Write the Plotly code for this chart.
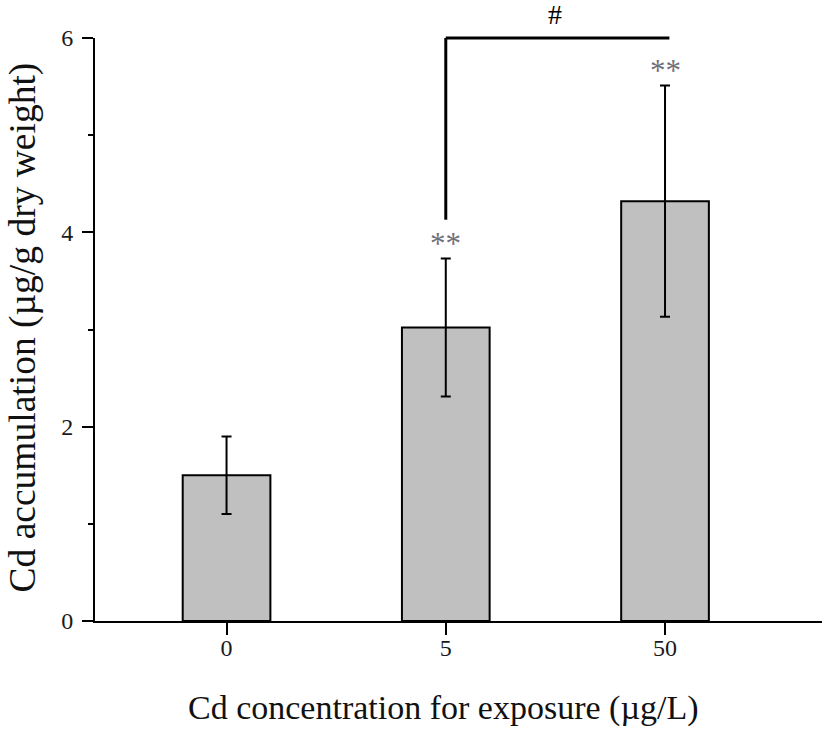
import plotly.graph_objects as go

# Cd accumulation per exposure group
categories = ["0", "5", "50"]
means = [1.50, 3.02, 4.32]
errors = [0.40, 0.71, 1.19]
stars = ["", "**", "**"]

SERIF = "Liberation Serif, Times New Roman, serif"
y_max = 6

fig = go.Figure()

fig.add_trace(
    go.Bar(
        x=list(range(len(categories))),
        y=means,
        width=0.4,
        marker=dict(color="#c0c0c0", line=dict(color="black", width=2)),
        error_y=dict(type="data", array=errors, visible=True,
                     color="black", thickness=2, width=5),
        showlegend=False,
    )
)

# significance asterisks above the error bars
for i, s in enumerate(stars):
    if s:
        fig.add_annotation(
            x=i, y=means[i] + errors[i], text=s, showarrow=False,
            yanchor="bottom", yshift=-4,
            font=dict(family=SERIF, size=31, color="#6f6f7a"),
        )

# bracket between 5 and 50 groups
b_low = (means[1] + errors[1] + 0.4) / y_max
fig.add_shape(type="line", xref="x", yref="y domain",
              x0=1, x1=1, y0=b_low, y1=1, line=dict(color="black", width=3))
fig.add_shape(type="line", xref="x", yref="y domain",
              x0=1, x1=2.02, y0=1, y1=1, line=dict(color="black", width=3))
fig.add_annotation(
    x=1.5, y=1, xref="x", yref="y domain", text="#", showarrow=False,
    yanchor="middle", yshift=24,
    font=dict(family=SERIF, size=28, color="black"),
)

# axis titles as annotations (placed like the original, slightly off-centre)
fig.add_annotation(
    x=0.48, y=0, xref="paper", yref="paper", text="Cd concentration for exposure (µg/L)",
    showarrow=False, xanchor="center", yanchor="top", yshift=-66,
    font=dict(family=SERIF, size=34, color="#111111"),
)
fig.add_annotation(
    x=0, y=0.5, xref="paper", yref="paper", text="Cd accumulation (µg/g dry weight)",
    showarrow=False, xanchor="center", yanchor="middle", xshift=-73, yshift=2,
    textangle=-90,
    font=dict(family=SERIF, size=37.5, color="#111111"),
)

fig.update_layout(
    width=827,
    height=729,
    margin=dict(l=95, r=5, t=38, b=108),
    plot_bgcolor="white",
    paper_bgcolor="white",
    font=dict(family=SERIF, color="#1a1a1a"),
)

fig.update_xaxes(
    range=[-0.6, 2.716],
    tickmode="array",
    tickvals=list(range(len(categories))),
    ticktext=categories,
    showline=True, linecolor="black", linewidth=2,
    ticks="outside", ticklen=12, tickwidth=2, tickcolor="black",
    ticklabelstandoff=-8,
    tickfont=dict(size=24),
    showgrid=False, zeroline=False,
)

fig.update_yaxes(
    range=[0, y_max],
    tickvals=[0, 2, 4, 6],
    showline=True, linecolor="black", linewidth=2,
    ticks="outside", ticklen=11, tickwidth=2, tickcolor="black",
    minor=dict(tickvals=[1, 3, 5], ticks="outside", ticklen=5,
               tickwidth=2, tickcolor="black"),
    ticklabelstandoff=4,
    tickfont=dict(size=24),
    showgrid=False, zeroline=False,
)

# drop the default 8px body margin so the figure fills the window
fig.write_html("out.html", config={"displayModeBar": False},
               post_script="document.body.style.margin = '0';")
